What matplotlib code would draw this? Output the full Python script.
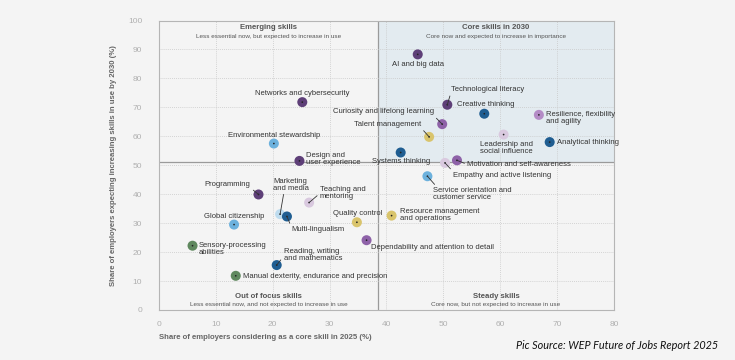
import matplotlib
matplotlib.use('Agg')
import matplotlib.pyplot as plt
from matplotlib.patches import Rectangle

plt.rcParams['font.family'] = ['Liberation Sans', 'DejaVu Sans']

# ---- data ----
skills = ['AI and big data', 'Technological literacy', 'Creative thinking',
          'Curiosity and lifelong learning', 'Talent management',
          'Resilience, flexibility\nand agility', 'Leadership and\nsocial influence',
          'Analytical thinking', 'Systems thinking', 'Motivation and self-awareness',
          'Empathy and active listening', 'Service orientation and\ncustomer service',
          'Resource management\nand operations', 'Quality control',
          'Dependability and attention to detail', 'Design and\nuser experience',
          'Networks and cybersecurity', 'Environmental stewardship', 'Programming',
          'Marketing\nand media', 'Multi-lingualism', 'Teaching and\nmentoring',
          'Global citizenship', 'Sensory-processing\nabilities',
          'Reading, writing\nand mathematics',
          'Manual dexterity, endurance and precision']
core_2025 = [45.5, 50.7, 57.2, 49.8, 47.5, 66.8, 60.6, 68.7, 42.5, 52.4,
             50.3, 47.2, 40.9, 34.8, 36.5, 24.7, 25.2, 20.2, 17.5, 21.3,
             22.5, 26.4, 13.2, 5.9, 20.7, 13.5]
increase_2030 = [88.3, 70.9, 67.8, 64.2, 59.8, 67.4, 60.6, 58.0, 54.4, 51.7,
                 50.8, 46.2, 32.6, 30.3, 24.1, 51.5, 71.8, 57.5, 39.9, 33.1,
                 32.3, 37.1, 29.5, 22.2, 15.5, 11.8]
group = ['dpurple', 'dpurple', 'dblue', 'mpurple', 'gold', 'lpurple', 'lavender',
         'dblue', 'dblue', 'mpurple', 'lavender', 'lblue', 'gold', 'gold',
         'mpurple', 'dpurple', 'dpurple', 'lblue', 'dpurple', 'vlblue', 'dblue',
         'lavender', 'lblue', 'green', 'dblue', 'green']
x_split, y_split = 38.5, 51

colors = {'dpurple': '#5e3f78', 'mpurple': '#8e62a8', 'lpurple': '#b48bc6',
          'lavender': '#d9c9df', 'dblue': '#1f5d91', 'lblue': '#6cb1dd',
          'vlblue': '#bedcef', 'gold': '#d9c46c', 'green': '#5f885e'}

# label layout: (text x, text y, ha, leader line?, leader start relpos)
label_pos = {
    'AI and big data': (45.6, 84.8, 'center', False, None),
    'Technological literacy': (51.3, 76.1, 'left', True, (0.0, 0.0)),
    'Creative thinking': (52.4, 70.9, 'left', False, None),
    'Curiosity and lifelong learning': (48.3, 68.4, 'right', True, (1.0, 0.0)),
    'Talent management': (46.1, 64.1, 'right', True, (1.0, 0.0)),
    'Resilience, flexibility\nand agility': (68.0, 66.2, 'left', False, None),
    'Leadership and\nsocial influence': (56.5, 56.0, 'left', False, None),
    'Analytical thinking': (69.9, 58.0, 'left', False, None),
    'Systems thinking': (42.6, 51.2, 'center', False, None),
    'Motivation and self-awareness': (54.2, 50.3, 'left', True, (0.0, 0.5)),
    'Empathy and active listening': (51.7, 46.6, 'left', True, (0.0, 1.0)),
    'Service orientation and\ncustomer service': (48.2, 40.0, 'left', True, (0.05, 1.0)),
    'Resource management\nand operations': (42.4, 32.8, 'left', False, None),
    'Quality control': (34.9, 33.4, 'center', False, None),
    'Dependability and attention to detail': (37.2, 21.6, 'left', False, None),
    'Design and\nuser experience': (25.9, 52.1, 'left', False, None),
    'Networks and cybersecurity': (25.2, 74.7, 'center', False, None),
    'Environmental stewardship': (20.2, 60.2, 'center', False, None),
    'Programming': (16.1, 43.4, 'right', True, (1.0, 0.0)),
    'Marketing\nand media': (20.1, 43.3, 'left', True, (0.3, 0.0)),
    'Multi-lingualism': (23.2, 27.8, 'left', True, (0.0, 1.0)),
    'Teaching and\nmentoring': (28.3, 40.3, 'left', True, (0.0, 0.5)),
    'Global citizenship': (13.3, 32.4, 'center', False, None),
    'Sensory-processing\nabilities': (7.0, 20.9, 'left', False, None),
    'Reading, writing\nand mathematics': (21.9, 19.0, 'left', True, (0.0, 0.4)),
    'Manual dexterity, endurance and precision': (14.8, 11.6, 'left', False, None),
}

bg = '#f4f4f4'
fig = plt.figure(figsize=(7.35, 3.6), dpi=100, facecolor=bg)
ax = fig.add_axes([0.2163, 0.139, 0.619, 0.804], facecolor=bg)
ax.set_xlim(0, 80)
ax.set_ylim(0, 100)

# shaded core quadrant
ax.add_patch(Rectangle((x_split, y_split), 80 - x_split, 100 - y_split,
                       facecolor='#e3ebf0', edgecolor='none', zorder=0))
ax.set_xticks(range(0, 81, 10))
ax.set_yticks(range(0, 101, 10))
ax.grid(True, color='#c8c8c8', linestyle=(0, (1, 1.5)), linewidth=0.6, zorder=0.5)
ax.axvline(x_split, color='#9a9a9a', linewidth=0.9, zorder=1)
ax.axhline(y_split, color='#9a9a9a', linewidth=0.9, zorder=1)
for s in ax.spines.values():
    s.set_color('#b5b5b5')
    s.set_linewidth(0.8)
ax.tick_params(length=0, labelsize=6, labelcolor='#b0b0b0')
ax.tick_params(axis='y', pad=12)
ax.tick_params(axis='x', pad=8)

ax.set_xlabel('Share of employers considering as a core skill in 2025 (%)',
              fontsize=5.6, color='#666666', fontweight='bold', labelpad=4,
              loc='left')
ax.set_ylabel('Share of employers expecting increasing skills in use by 2030 (%)',
              fontsize=5.6, color='#666666', fontweight='bold', labelpad=8)

# points
for xv, yv, g in zip(core_2025, increase_2030, group):
    ax.scatter(xv, yv, s=52, color=colors[g], edgecolors='none', zorder=3)
    ax.scatter(xv, yv, s=1.5, color='#222222', edgecolors='none', zorder=4)

# labels
for name, xv, yv in zip(skills, core_2025, increase_2030):
    tx, ty, ha, lead, rel = label_pos[name]
    if lead:
        ax.annotate(name, xy=(xv, yv), xytext=(tx, ty), ha=ha, va='center',
                    fontsize=5.5, color='#333333', linespacing=1.0, zorder=5,
                    arrowprops=dict(arrowstyle='-', color='#333333', lw=0.6,
                                    shrinkA=0, shrinkB=0, relpos=rel))
    else:
        ax.text(tx, ty, name, ha=ha, va='center', fontsize=5.5, color='#333333',
                linespacing=1.0, zorder=5)

# quadrant titles
quad = [((x_split) / 2, 97.5, 'Emerging skills',
         'Less essential now, but expected to increase in use'),
        ((x_split + 80) / 2, 97.5, 'Core skills in 2030',
         'Core now and expected to increase in importance'),
        ((x_split) / 2, 4.8, 'Out of focus skills',
         'Less essential now, and not expected to increase in use'),
        ((x_split + 80) / 2, 4.8, 'Steady skills',
         'Core now, but not expected to increase in use')]
for qx, qy, title, sub in quad:
    ax.text(qx, qy, title, ha='center', va='center', fontsize=5.6,
            fontweight='bold', color='#555555')
    ax.text(qx, qy - 2.9, sub, ha='center', va='center', fontsize=4.6,
            color='#555555')

fig.text(0.702, 0.039, 'Pic Source: WEP Future of Jobs Report 2025',
         fontsize=7.8, style='italic', color='#111111', ha='left', va='center',
         family=['Lato', 'DejaVu Sans'])

fig.savefig('out.png', dpi=100, facecolor=bg)
